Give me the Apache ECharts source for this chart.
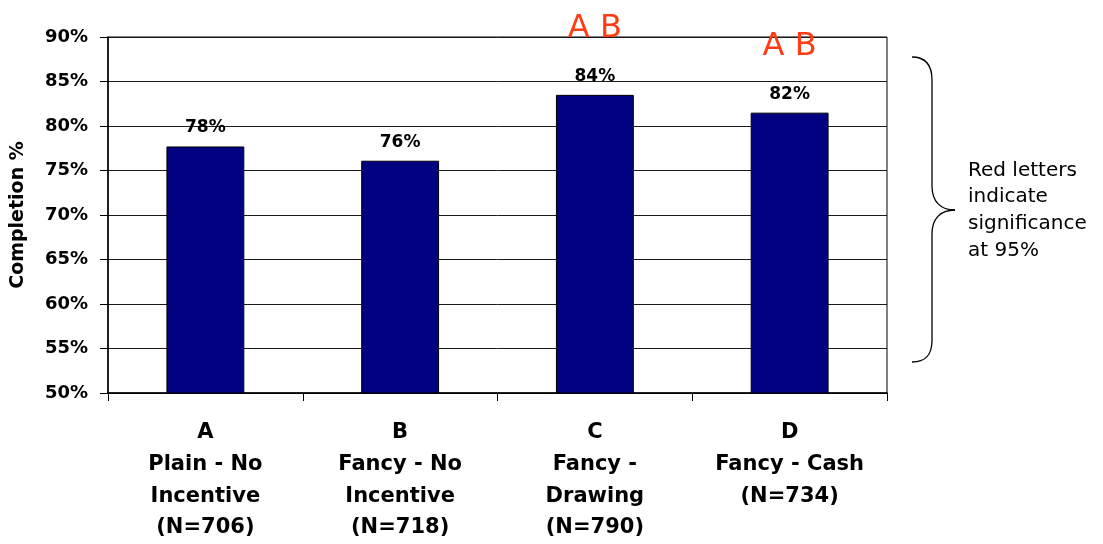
<!DOCTYPE html>
<html>
<head>
<meta charset="utf-8">
<script src="https://cdn.jsdelivr.net/npm/echarts@6/dist/echarts.min.js"></script>
<style>
  html, body { margin: 0; padding: 0; background: #fff; }
  #chart { width: 1103px; height: 544px; }
</style>
</head>
<body>
<div id="chart"></div>
<script>
// Survey completion rate by mail-out version
const groupLetters = ['A', 'B', 'C', 'D'];
const groupNames = ['Plain - No\nIncentive', 'Fancy - No\nIncentive', 'Fancy -\nDrawing', 'Fancy - Cash'];
const groupSizes = [706, 718, 790, 734];
const completion = [77.7, 76.1, 83.5, 81.5];
// groups each bar differs from significantly
const sigLetters = ['', '', 'A B', 'A B'];
const yTicks = { min: 50, max: 90, step: 5 };
const noteLines = ['Red letters', 'indicate', 'significance', 'at 95%'];

const categories = groupLetters.map((l, i) => l + '\n' + groupNames[i] + '\n(N=' + groupSizes[i] + ')');

const chart = echarts.init(document.getElementById('chart'), null, { renderer: 'canvas' });

const FONT = 'DejaVu Sans, Arial, sans-serif';
const braceStyle = { fill: 'none', stroke: '#000', lineWidth: 1.3 };

function curve(x1, y1, cpx1, cpy1, cpx2, cpy2, x2, y2) {
  return { type: 'bezierCurve', shape: { x1, y1, cpx1, cpy1, cpx2, cpy2, x2, y2 }, style: braceStyle, silent: true };
}
function seg(x1, y1, x2, y2) {
  return { type: 'line', shape: { x1, y1, x2, y2 }, style: braceStyle, silent: true };
}

chart.setOption({
  animation: false,
  backgroundColor: '#ffffff',
  grid: {
    left: 108, right: 216, top: 37, bottom: 151,
    show: true, borderColor: '#000', borderWidth: 1
  },
  xAxis: {
    type: 'category',
    data: categories,
    axisLine: { show: true, lineStyle: { color: '#000', width: 1.5 } },
    axisTick: { show: true, inside: false, length: 8, alignWithLabel: false, lineStyle: { color: '#000', width: 1 } },
    axisLabel: {
      margin: 24,
      color: '#000',
      fontFamily: FONT,
      fontWeight: 'bold',
      fontSize: 21,
      lineHeight: 31.7,
      align: 'center',
      interval: 0
    },
    splitLine: { show: false }
  },
  yAxis: {
    type: 'value',
    min: yTicks.min,
    max: yTicks.max,
    interval: yTicks.step,
    name: 'Completion %',
    nameLocation: 'middle',
    nameRotate: 90,
    nameGap: 80,
    nameTextStyle: { color: '#000', fontFamily: FONT, fontWeight: 'bold', fontSize: 19 },
    axisLine: { show: true, lineStyle: { color: '#000', width: 1.5 } },
    axisTick: { show: true, length: 8, lineStyle: { color: '#000', width: 1 } },
    axisLabel: {
      margin: 20,
      color: '#000',
      fontFamily: FONT,
      fontWeight: 'bold',
      fontSize: 18,
      formatter: '{value}%'
    },
    splitLine: { show: true, lineStyle: { color: '#1a1a1a', width: 1 } }
  },
  series: [{
    type: 'bar',
    data: completion,
    barWidth: '40%',
    itemStyle: { color: '#000080', borderColor: '#000', borderWidth: 1 },
    label: {
      show: true,
      position: 'top',
      distance: 9,
      formatter: function (p) {
        const v = Math.round(p.value) + '%';
        const s = sigLetters[p.dataIndex];
        return s ? '{sig|' + s + '}\n{val|' + v + '}' : '{val|' + v + '}';
      },
      rich: {
        val: { color: '#000', fontFamily: FONT, fontWeight: 'bold', fontSize: 17, lineHeight: 19, align: 'center' },
        sig: { color: '#ff3c14', fontFamily: FONT, fontWeight: 'normal', fontSize: 32, lineHeight: 76, align: 'center' }
      }
    }
  }],
  graphic: [
    // curly brace grouping the note
    curve(912, 57, 925, 57, 932, 64, 932, 80),
    seg(932, 80, 932, 186),
    curve(932, 186, 932, 201, 940, 210, 955, 210),
    curve(955, 210, 940, 210, 932, 219, 932, 234),
    seg(932, 234, 932, 340),
    curve(932, 340, 932, 356, 925, 362, 912, 362),
    {
      type: 'text',
      left: 968,
      top: 157,
      style: {
        text: noteLines.join('\n'),
        fill: '#000',
        font: 'normal 20px ' + FONT,
        lineHeight: 26.7
      }
    }
  ]
});
</script>
</body>
</html>
